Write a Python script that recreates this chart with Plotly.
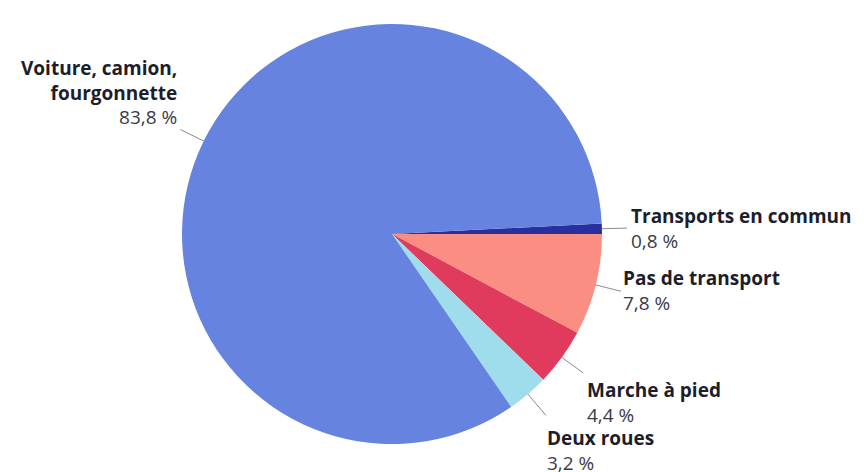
import math
import plotly.graph_objects as go

# Mode de transport pour aller travailler (part des actifs, %)
categories = ["Transports en commun", "Pas de transport", "Marche à pied",
              "Deux roues", "Voiture, camion, fourgonnette"]
values = [0.8, 7.8, 4.4, 3.2, 83.8]
colors = ["#2a2f9e", "#fa8e82", "#e03a5c", "#9fdcec", "#6683e0"]
label_lines = {
    "Voiture, camion, fourgonnette": "Voiture, camion,<br>fourgonnette",
}

W, H = 864, 472
CX, CY, R = 392, 234, 210           # pie centre and radius in pixels
START = -360 * values[0] / 100      # first slice sits just above 3 o'clock

# label placement: (leader length, dx, dy, side) relative to leader end
label_style = {
    "Transports en commun": (25, 2, 0, "left"),
    "Pas de transport": (26, 0, -1, "left"),
    "Marche à pied": (26, 2, 30, "left"),
    "Deux roues": (28, -1, 35, "left"),
    "Voiture, camion, fourgonnette": (26, -1, -37, "right"),
}


def px(x, y):
    return x / W, 1 - y / H


fig = go.Figure(go.Pie(
    labels=categories,
    values=values,
    sort=False,
    direction="clockwise",
    rotation=90 + START,
    marker=dict(colors=colors, line=dict(width=0)),
    textinfo="none",
    hoverinfo="label+percent",
    showlegend=False,
    domain=dict(x=[(CX - R) / W, (CX + R) / W],
                y=[1 - (CY + R) / H, 1 - (CY - R) / H]),
))

shapes, annotations = [], []
total = sum(values)
acc = 0.0
for cat, val in zip(categories, values):
    mid = START + 360 * (acc + val / 2) / total
    acc += val
    a = math.radians(mid)
    ext, dx, dy, side = label_style[cat]
    x0, y0 = CX + R * math.cos(a), CY + R * math.sin(a)
    x1, y1 = CX + (R + ext) * math.cos(a), CY + (R + ext) * math.sin(a)
    p0, p1 = px(x0, y0), px(x1, y1)
    shapes.append(dict(type="line", xref="paper", yref="paper",
                       x0=p0[0], y0=p0[1], x1=p1[0], y1=p1[1],
                       line=dict(color="#8a8a8a", width=1)))
    name = label_lines.get(cat, cat)
    pct = f"{val:.1f}".replace(".", ",") + " %"
    lx, ly = px(x1 + dx, y1 + dy)
    annotations.append(dict(
        xref="paper", yref="paper", x=lx, y=ly,
        xanchor=side, yanchor="middle", align=side, showarrow=False,
        text=f"<b>{name}</b><br><span style='color:#3a3a48;font-weight:normal'>{pct}</span>",
        font=dict(family="Open Sans", size=19, color="#1d1d2b"),
    ))

fig.update_layout(
    width=W, height=H,
    margin=dict(l=0, r=0, t=0, b=0),
    paper_bgcolor="white", plot_bgcolor="white",
    shapes=shapes, annotations=annotations,
)

fig.write_html("out.html")
